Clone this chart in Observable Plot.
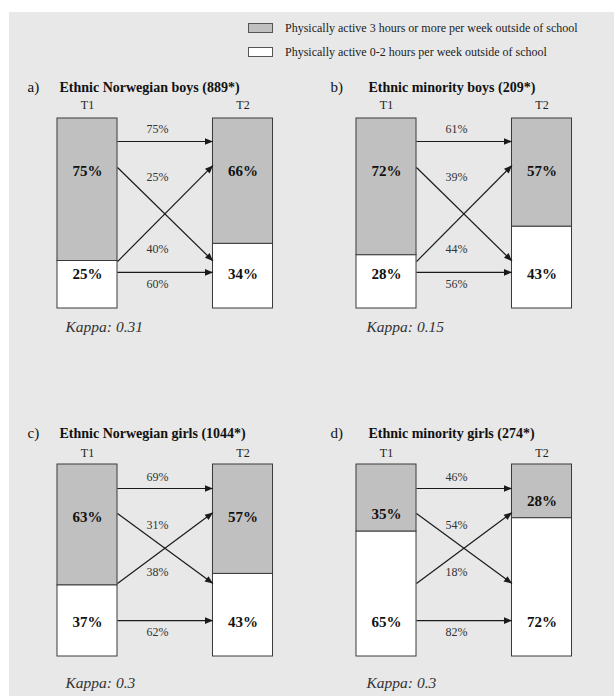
<!DOCTYPE html>
<html>
<head>
<meta charset="utf-8">
<script src="https://cdn.jsdelivr.net/npm/d3@7"></script>
<script src="https://cdn.jsdelivr.net/npm/@observablehq/plot@0.6"></script>
<style>
  body { margin: 0; background: #ffffff; font-family: "Liberation Serif", "Times New Roman", serif; }
  #page { position: relative; width: 614px; height: 696px; overflow: hidden; background: #ffffff; }
  #bg { position: absolute; left: 9px; top: 12px; width: 605px; height: 684px; background: #e8e8e8; }
  .sw { position: absolute; left: 248px; width: 23px; height: 8px; border: 1px solid #555; }
  .lt { position: absolute; left: 285px; font-size: 12px; color: #222; line-height: 14px; white-space: nowrap; }
  .panel { position: absolute; }
  .panel svg { overflow: visible; font-family: "Liberation Serif", "Times New Roman", serif; }
  .panel svg text { font-family: "Liberation Serif", "Times New Roman", serif; }
</style>
</head>
<body>
<div id="page">
  <div id="bg"></div>
  <div class="sw" style="top:23px;background:#c0c0c0"></div>
  <div class="lt" id="leg0" style="top:21px"></div>
  <div class="sw" style="top:47px;background:#ffffff"></div>
  <div class="lt" id="leg1" style="top:45px"></div>
</div>
<script>
// ---------- data ----------
const legendLabels = [
  "Physically active 3 hours or more per week outside of school",
  "Physically active 0-2 hours per week outside of school"
];
const panelIds = ["a)", "b)", "c)", "d)"];
const groupTitles = [
  "Ethnic Norwegian boys (889*)",
  "Ethnic minority boys (209*)",
  "Ethnic Norwegian girls (1044*)",
  "Ethnic minority girls (274*)"
];
const timeLabels = ["T1", "T2"];
const activeT1 = [75, 72, 63, 35];
const inactiveT1 = [25, 28, 37, 65];
const activeT2 = [66, 57, 57, 28];
const inactiveT2 = [34, 43, 43, 72];
const stayActive = [75, 61, 69, 46];        // active T1 -> active T2
const activeToInactive = [25, 39, 31, 54];  // active T1 -> inactive T2
const inactiveToActive = [40, 44, 38, 18];  // inactive T1 -> active T2
const stayInactive = [60, 56, 62, 82];      // inactive T1 -> inactive T2
const kappaValues = ["0.31", "0.15", "0.3", "0.3"];

// ---------- layout (positions / styles) ----------
const FONT = "Liberation Serif, Times New Roman, serif";
const GREY = "#c0c0c0";
const hw = 0.193; // half bar width in time-index units
const rows = [
  { top: 70, h: 275, yr: [48, 238], titleDy: 17, tDy: 35, kDy: 257,
    arrow: { aa: [12.1, 12.1], ai: [25.8, 75], ia: [75.3, 24.7], ii: [81, 81] },
    lab: { aa: 5.8, ai: 31, ia: 69, ii: 87 } },
  { top: 415, h: 281, yr: [49, 241], titleDy: 18, tDy: 38, kDy: 268,
    arrow: { aa: [12.5, 12.5], ai: [25.5, 62], ia: [62, 25], ii: [81.3, 81.3] },
    lab: { aa: 6.8, ai: 31.8, ia: 56, ii: 87.5 } }
];
const cols = [
  { left: 0, w: 300, idX: 27, titleX: 59, kX: 65 },
  { left: 299, w: 315, idX: 31, titleX: 69, kX: 67 }
];

document.getElementById("leg0").textContent = legendLabels[0];
document.getElementById("leg1").textContent = legendLabels[1];

const page = document.getElementById("page");

for (let i = 0; i < 4; i++) {
  const row = rows[Math.floor(i / 2)];
  const col = cols[i % 2];

  const segs = [
    { t: 0, y1: 0, y2: activeT1[i], fill: GREY, label: activeT1[i] + "%", ly: Math.min(27.5, activeT1[i] - 9) },
    { t: 0, y1: activeT1[i], y2: activeT1[i] + inactiveT1[i], fill: "#ffffff", label: inactiveT1[i] + "%", ly: 82 },
    { t: 1, y1: 0, y2: activeT2[i], fill: GREY, label: activeT2[i] + "%", ly: Math.min(27.5, activeT2[i] - 9) },
    { t: 1, y1: activeT2[i], y2: activeT2[i] + inactiveT2[i], fill: "#ffffff", label: inactiveT2[i] + "%", ly: 82 }
  ];
  const links = [
    { k: "aa", v: stayActive[i] },
    { k: "ai", v: activeToInactive[i] },
    { k: "ia", v: inactiveToActive[i] },
    { k: "ii", v: stayInactive[i] }
  ].map(d => ({ ...d, y1: row.arrow[d.k][0], y2: row.arrow[d.k][1], ly: row.lab[d.k] }));

  const svg = Plot.plot({
    width: col.w,
    height: row.h,
    margin: 0,
    x: { domain: [0, 1], range: [87, 242.5], axis: null },
    y: { domain: [0, 100], range: row.yr, axis: null },
    style: "background: transparent; overflow: visible; font-family: 'Liberation Serif', 'Times New Roman', serif;",
    marks: [
      Plot.rect(segs, { x1: d => d.t - hw, x2: d => d.t + hw, y1: "y1", y2: "y2", fill: "fill", stroke: "#3a3a3a", strokeWidth: 1 }),
      Plot.text(segs, { x: "t", y: "ly", text: "label", fontFamily: FONT, fontSize: 15, fontWeight: "bold", fill: "#111" }),
      Plot.link(links, { x1: hw, x2: 1 - hw, y1: "y1", y2: "y2", stroke: "#1a1a1a", strokeWidth: 1.2, markerEnd: "arrow" }),
      Plot.text(links, { x: 0.45, y: "ly", text: d => d.v + "%", fontFamily: FONT, fontSize: 12, fill: "#333" }),
      Plot.text(timeLabels, { x: (d, j) => j, frameAnchor: "top", dy: row.tDy, lineAnchor: "middle", fontFamily: FONT, fontSize: 12, fill: "#222" }),
      Plot.text([panelIds[i]], { frameAnchor: "top-left", dx: col.idX, dy: row.titleDy, textAnchor: "start", lineAnchor: "middle", fontFamily: FONT, fontSize: 15, fill: "#111" }),
      Plot.text([groupTitles[i]], { frameAnchor: "top-left", dx: col.titleX, dy: row.titleDy, textAnchor: "start", lineAnchor: "middle", fontFamily: FONT, fontSize: 14, fontWeight: "bold", fill: "#111" }),
      Plot.text(["Kappa: " + kappaValues[i]], { frameAnchor: "top-left", dx: col.kX, dy: row.kDy, textAnchor: "start", lineAnchor: "middle", fontFamily: FONT, fontSize: 15.5, fontStyle: "italic", fill: "#333" })
    ]
  });

  // filled triangular arrowheads
  svg.querySelectorAll("marker").forEach(m => {
    m.setAttribute("viewBox", "-10 -5 10 10");
    m.setAttribute("markerUnits", "userSpaceOnUse");
    m.setAttribute("markerWidth", "10");
    m.setAttribute("markerHeight", "10");
    m.setAttribute("fill", "#1a1a1a");
    m.setAttribute("stroke", "none");
    m.style.overflow = "visible";
    const p = m.querySelector("path");
    if (p) { p.setAttribute("d", "M-8,-3.3L0,0L-8,3.3Z"); p.setAttribute("fill", "#1a1a1a"); p.setAttribute("stroke", "none"); }
  });

  const wrap = document.createElement("div");
  wrap.className = "panel";
  wrap.style.left = col.left + "px";
  wrap.style.top = row.top + "px";
  wrap.appendChild(svg);
  page.appendChild(wrap);
}
</script>
</body>
</html>
